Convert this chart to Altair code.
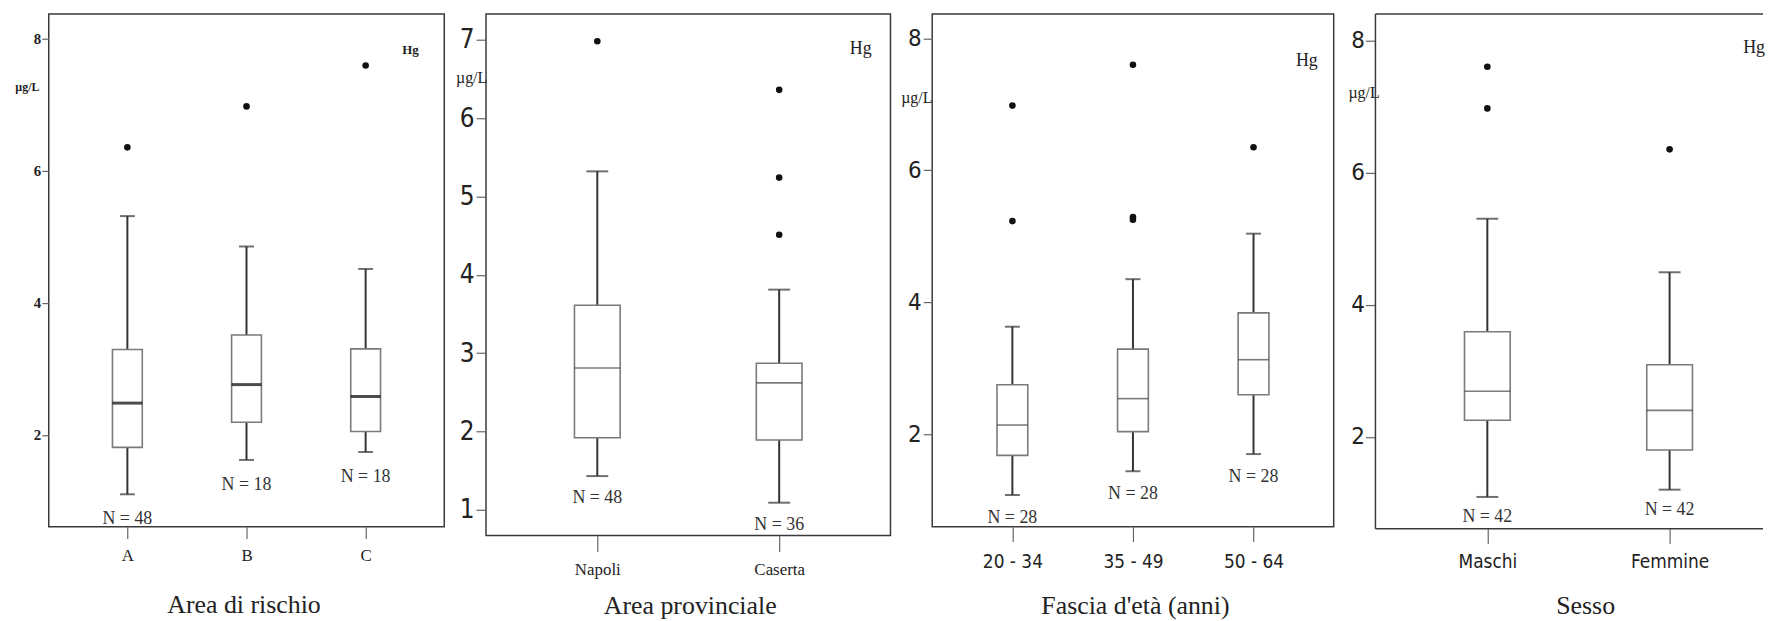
import altair as alt
import pandas as pd

SERIF = "'Liberation Serif', 'Times New Roman', serif"
NARROW = "'Liberation Sans Narrow', 'Arial Narrow', 'DejaVu Sans Condensed', sans-serif"

# ---------------- data ----------------
# Panel 1: Area di rischio
p1_cats = ["A", "B", "C"]
p1_lo = [1.10, 1.62, 1.74]
p1_q1 = [1.81, 2.19, 2.05]
p1_med = [2.48, 2.76, 2.58]
p1_q3 = [3.29, 3.51, 3.30]
p1_hi = [5.31, 4.85, 4.51]
p1_n = [48, 18, 18]
p1_out_cat = ["A", "B", "C"]
p1_out_val = [6.35, 6.97, 7.59]

# Panel 2: Area provinciale
p2_cats = ["Napoli", "Caserta"]
p2_lo = [1.43, 1.09]
p2_q1 = [1.92, 1.89]
p2_med = [2.81, 2.62]
p2_q3 = [3.61, 2.87]
p2_hi = [5.32, 3.81]
p2_n = [48, 36]
p2_out_cat = ["Napoli", "Caserta", "Caserta", "Caserta"]
p2_out_val = [6.98, 6.36, 5.24, 4.51]

# Panel 3: Fascia d'età (anni)
p3_cats = ["20 - 34", "35 - 49", "50 - 64"]
p3_lo = [1.08, 1.44, 1.70]
p3_q1 = [1.68, 2.04, 2.60]
p3_med = [2.14, 2.54, 3.13]
p3_q3 = [2.75, 3.29, 3.84]
p3_hi = [3.63, 4.35, 5.04]
p3_n = [28, 28, 28]
p3_out_cat = ["20 - 34", "20 - 34", "35 - 49", "35 - 49", "35 - 49", "50 - 64"]
p3_out_val = [6.98, 5.23, 7.60, 5.29, 5.25, 6.35]

# Panel 4: Sesso
p4_cats = ["Maschi", "Femmine"]
p4_lo = [1.09, 1.20]
p4_q1 = [2.25, 1.80]
p4_med = [2.69, 2.40]
p4_q3 = [3.59, 3.09]
p4_hi = [5.30, 4.49]
p4_n = [42, 42]
p4_out_cat = ["Maschi", "Maschi", "Femmine"]
p4_out_val = [7.60, 6.97, 6.35]

y_ticks_1 = [2, 4, 6, 8]
y_ticks_2 = [1, 2, 3, 4, 5, 6, 7]

FRAME = "#3a3a3a"


def panel(cats, lo, q1, med, q3, hi, ns, out_cat, out_val, o):
    df = pd.DataFrame({"cat": cats, "lo": lo, "q1": q1, "med": med,
                       "q3": q3, "hi": hi,
                       "n": [f"N = {v}" for v in ns]})
    odf = pd.DataFrame({"cat": out_cat, "val": out_val})
    lab = pd.DataFrame({"t": ["Hg"]})

    if "xrange" in o:
        xs = alt.Scale(type="point", domain=cats, range=o["xrange"], padding=0)
    else:
        xs = alt.Scale(type="point", domain=cats, padding=o["xpad"])
    ys = alt.Scale(domain=o["ydom"], nice=False, zero=False)

    xaxis = alt.Axis(
        title=o["xtitle"], labelAngle=0, grid=False, domain=False,
        tickSize=o["xtick"], tickColor="#666", tickWidth=1.2,
        labelFont=o["xfont"], labelFontSize=o["xfs"], labelColor="#222",
        labelPadding=o["xlpad"], labelBaseline="top",
        titleFont=SERIF, titleFontSize=26, titleFontWeight="normal",
        titleColor="#222", titleY=o["titley"], titleBaseline="alphabetic",
        titleX=o["titlex"], titleAlign="center",
    )
    yaxis = alt.Axis(
        title="µg/L", values=o["yvals"], grid=False, domain=False,
        tickSize=o["ytick"], tickColor="#666", tickWidth=1.2,
        labelFont=o["yfont"], labelFontSize=o["yfs"],
        labelFontWeight=o["yfw"], labelColor="#222", labelPadding=o["ylpad"],
        titleAngle=0, titleX=o["ux"], titleY=o["uy"], titleAlign="center",
        titleBaseline="middle", titleFont=SERIF, titleFontSize=o["ufs"],
        titleFontWeight=o["yfw"], titleColor="#222",
    )
    X = alt.X("cat:N", scale=xs, sort=cats, axis=xaxis)

    def Y(f):
        return alt.Y(f, scale=ys, axis=yaxis)

    base = alt.Chart(df)
    whisk = base.mark_rule(color="#333", strokeWidth=2).encode(
        x=X, y=Y("lo:Q"), y2="hi:Q")
    box = base.mark_bar(size=o["bw"], fill="white", stroke="#7a7a7a",
                        strokeWidth=1.6).encode(x=X, y=Y("q1:Q"), y2="q3:Q")
    medl = base.mark_tick(orient="horizontal", size=o["bw"],
                          thickness=o["mt"], color=o["mc"]).encode(
        x=X, y=Y("med:Q"))
    caplo = base.mark_tick(orient="horizontal", size=o["cw"], thickness=2,
                           color="#333").encode(x=X, y=Y("lo:Q"))
    caphi = base.mark_tick(orient="horizontal", size=o["cw"], thickness=2,
                           color="#333").encode(x=X, y=Y("hi:Q"))
    outl = alt.Chart(odf).mark_circle(size=44, color="#111", opacity=1).encode(
        x=X, y=Y("val:Q"))
    ntxt = base.mark_text(font=SERIF, fontSize=18, color="#333",
                          baseline="middle", dy=o["ndy"]).encode(
        x=X, y=Y("lo:Q"), text="n:N")
    hg = alt.Chart(lab).mark_text(
        font=SERIF, fontSize=o["hgfs"], fontWeight=o["hgfw"], color="#222",
        align="center", baseline="middle").encode(
        x=alt.value(o["hgx"]), y=alt.value(o["hgy"]), text="t:N")

    layers = [whisk, box, medl, caplo, caphi, outl, ntxt, hg]
    if o["open_right"]:
        # frame drawn as three sides: the right side lies past the picture edge
        fb = alt.Chart(lab).mark_rule(color=FRAME, strokeWidth=1.5)
        layers.append(fb.encode(x=alt.value(0), x2=alt.value(o["w"]), y=alt.value(0)))
        layers.append(fb.encode(x=alt.value(0), x2=alt.value(o["w"]), y=alt.value(o["h"])))
        layers.append(fb.encode(x=alt.value(0), y=alt.value(0), y2=alt.value(o["h"])))
    ch = alt.layer(*layers).properties(width=o["w"], height=o["h"])
    if o["open_right"]:
        ch = ch.properties(view=alt.ViewBackground(strokeOpacity=0))
    return ch


c1 = panel(p1_cats, p1_lo, p1_q1, p1_med, p1_q3, p1_hi, p1_n, p1_out_cat, p1_out_val, dict(
    w=398, h=516, xpad=0.66, ydom=[0.61, 8.37], yvals=y_ticks_1,
    xtitle="Area di rischio", xtick=12, xfont=SERIF, xfs=17, xlpad=9,
    titley=86, titlex=196,
    ytick=7, yfont=SERIF, yfs=15, yfw="bold", ylpad=1,
    ux=-22, uy=73, ufs=12,
    bw=30, cw=15, mt=3, mc="#000", ndy=25,
    hgx=364, hgy=36, hgfs=13, hgfw="bold", open_right=False))

c2 = panel(p2_cats, p2_lo, p2_q1, p2_med, p2_q3, p2_hi, p2_n, p2_out_cat, p2_out_val, dict(
    w=407, h=525, xpad=0.612, ydom=[0.67, 7.33], yvals=y_ticks_2,
    xtitle="Area provinciale", xtick=16, xfont=SERIF, xfs=17, xlpad=10,
    titley=78, titlex=205,
    ytick=10, yfont=NARROW, yfs=26, yfw="normal", ylpad=2,
    ux=-15, uy=64, ufs=16,
    bw=46, cw=22, mt=1.6, mc="#444", ndy=22,
    hgx=377, hgy=35, hgfs=18, hgfw="normal", open_right=False))

c3 = panel(p3_cats, p3_lo, p3_q1, p3_med, p3_q3, p3_hi, p3_n, p3_out_cat, p3_out_val, dict(
    w=404, h=516, xpad=0.665, ydom=[0.60, 8.37], yvals=y_ticks_1,
    xtitle="Fascia d'età (anni)", xtick=15, xfont=NARROW, xfs=19, xlpad=11,
    titley=87, titlex=204,
    ytick=9, yfont=NARROW, yfs=24, yfw="normal", ylpad=2,
    ux=-16, uy=84, ufs=16,
    bw=31, cw=15, mt=1.6, mc="#444", ndy=23,
    hgx=377, hgy=47, hgfs=18, hgfw="normal", open_right=False))

c4 = panel(p4_cats, p4_lo, p4_q1, p4_med, p4_q3, p4_hi, p4_n, p4_out_cat, p4_out_val, dict(
    w=390, h=518, xrange=[112.6, 296], ydom=[0.61, 8.40], yvals=y_ticks_1,
    xtitle="Sesso", xtick=15, xfont=NARROW, xfs=19, xlpad=9,
    titley=85, titlex=211,
    ytick=10, yfont=NARROW, yfs=24, yfw="normal", ylpad=1,
    ux=-12, uy=79, ufs=16,
    bw=46, cw=22, mt=1.6, mc="#444", ndy=20,
    hgx=381, hgy=34, hgfs=18, hgfw="normal", open_right=True))

chart = alt.hconcat(c1, c2, c3, c4, spacing=42, bounds="flush").properties(
    padding={"left": 6, "top": 3, "right": 0, "bottom": 0},
    background="white",
).configure_view(stroke=FRAME, strokeWidth=1.5)

chart.save("out.html", embed_options={"renderer": "svg", "actions": False})
